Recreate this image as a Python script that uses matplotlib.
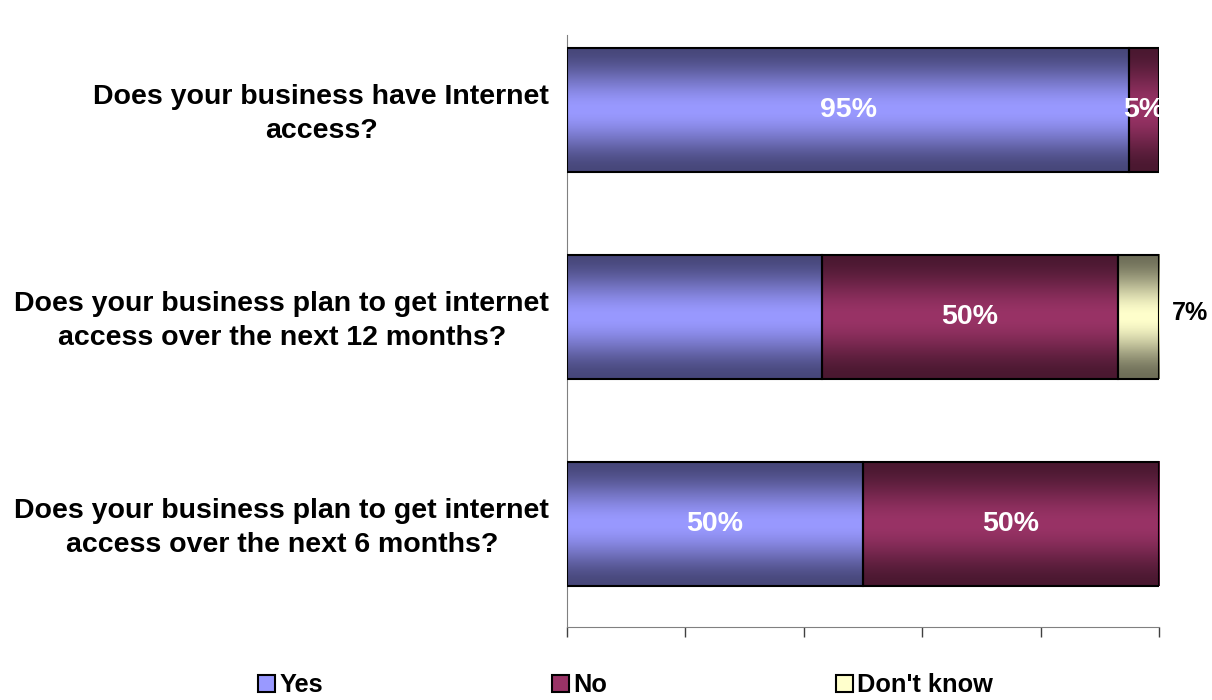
import numpy as np
import matplotlib.pyplot as plt
from matplotlib.patches import Rectangle, Patch

plt.rcParams['font.family'] = ['Liberation Sans', 'DejaVu Sans']

# survey questions, top to bottom
questions = [
    "Does your business have Internet\naccess?",
    "Does your business plan to get internet\naccess over the next 12 months?",
    "Does your business plan to get internet\naccess over the next 6 months?",
]
series = ["Yes", "No", "Don't know"]
yes = [95, 43, 50]
no = [5, 50, 50]
dont_know = [0, 7, 0]
# which segments carry a printed value (middle "Yes" is left blank)
show_yes = [True, False, True]
show_no = [True, True, True]
show_dk = [False, True, False]

# (light centre, dark edge) for each series
colors = {
    "Yes": ("#9999ff", "#47477a"),
    "No": ("#993366", "#4a1830"),
    "Don't know": ("#ffffcc", "#6e6e58"),
}

def gradient_bar(ax, left, width, y, h, light, dark):
    s = np.linspace(0, 1, 200)
    t = np.abs(2 * s - 1)
    t = t * t * (3 - 2 * t)  # smoothstep
    c1 = np.array(plt.matplotlib.colors.to_rgb(light))
    c2 = np.array(plt.matplotlib.colors.to_rgb(dark))
    img = c1[None, :] * (1 - t[:, None]) + c2[None, :] * t[:, None]
    ax.imshow(img[:, None, :], extent=(left, left + width, y - h / 2, y + h / 2),
              aspect='auto', interpolation='bilinear', zorder=2)
    ax.add_patch(Rectangle((left, y - h / 2), width, h, fill=False,
                           edgecolor='black', linewidth=1.5, zorder=3))

fig = plt.figure(figsize=(12.12, 7), dpi=100)
ax = fig.add_axes([0.4678, 0.1043, 0.4885, 0.8457])

ypos = [2, 1, 0]
h = 0.6
for i, y in enumerate(ypos):
    left = 0
    for name, vals, show in [("Yes", yes, show_yes), ("No", no, show_no),
                             ("Don't know", dont_know, show_dk)]:
        v = vals[i]
        if v <= 0:
            continue
        light, dark = colors[name]
        gradient_bar(ax, left, v, y, h, light, dark)
        if show[i]:
            if name == "Don't know":
                ax.text(105.3, y + 0.02, f"{v}%", ha='center', va='center',
                        fontsize=18, fontweight='bold', color='black', zorder=4)
            else:
                ax.text(left + v / 2, y, f"{v}%", ha='center', va='center',
                        fontsize=20.5, fontweight='bold', color='white', zorder=4)
        left += v

ax.set_xlim(0, 100)
ax.set_ylim(-0.5, 2.362)
ax.set_xticks(np.arange(0, 101, 20))
ax.set_xticklabels([])
ax.tick_params(axis='x', direction='out', length=7, color='#404040', width=1)
ax.set_yticks([])
for side in ['top', 'right']:
    ax.spines[side].set_visible(False)
ax.spines['left'].set_color('#808080')
ax.spines['bottom'].set_color('#808080')

for q, y in zip(questions, ypos):
    ax.text(-3, y - 0.02, q, ha='right', va='center', multialignment='center',
            fontsize=20.5, fontweight='bold', linespacing=1.4,
            transform=ax.transData, clip_on=False)

handles = [Patch(facecolor=colors[n][0], edgecolor='black', linewidth=1.5)
           for n in series]
fig.legend(handles, series, loc='center', bbox_to_anchor=(0.516, 0.021), ncol=3,
           frameon=False, prop={'weight': 'bold', 'size': 18.3},
           handlelength=0.67, handleheight=0.67, handletextpad=0.16,
           columnspacing=9.0, borderpad=0)

fig.savefig('out.png', dpi=100)
